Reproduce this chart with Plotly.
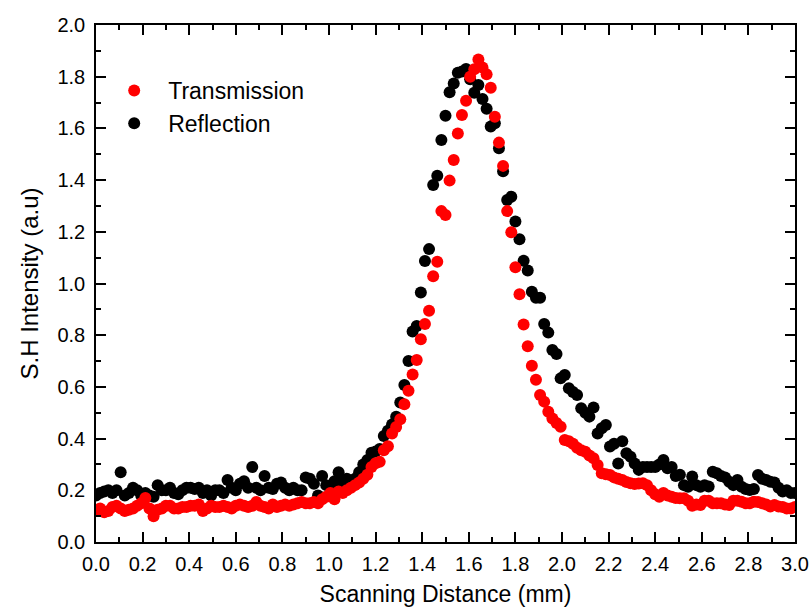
import plotly.graph_objects as go

# Scan positions (mm): 171 samples across 0 – 3 mm
n_points = 171
step_mm = 3.0 / 170
scan_mm = [round(i * step_mm, 4) for i in range(n_points)]

# Second-harmonic intensity, transmission geometry (a.u.)
transmission = [
    0.12, 0.13, 0.115, 0.12, 0.135, 0.14, 0.13, 0.12, 0.125, 0.13,
    0.14, 0.15, 0.17, 0.13, 0.10, 0.125, 0.13, 0.14, 0.14, 0.13,
    0.13, 0.135, 0.135, 0.14, 0.14, 0.145, 0.12, 0.13, 0.14, 0.135,
    0.135, 0.14, 0.135, 0.13, 0.14, 0.145, 0.14, 0.135, 0.14, 0.155,
    0.14, 0.135, 0.13, 0.145, 0.135, 0.14, 0.145, 0.14, 0.145, 0.15,
    0.155, 0.15, 0.15, 0.155, 0.15, 0.165, 0.175, 0.19, 0.165, 0.195,
    0.19, 0.20, 0.21, 0.22, 0.23, 0.245, 0.26, 0.29, 0.305, 0.31,
    0.355, 0.37, 0.42, 0.445, 0.475, 0.533, 0.585, 0.648, 0.704, 0.784,
    0.843, 0.895, 1.028, 1.084, 1.28, 1.265, 1.398, 1.478, 1.58, 1.652,
    1.707, 1.80, 1.829, 1.867, 1.836, 1.809, 1.757, 1.645, 1.545, 1.455,
    1.28, 1.198, 1.063, 0.958, 0.841, 0.757, 0.682, 0.628, 0.569, 0.543,
    0.504, 0.478, 0.46, 0.446, 0.395, 0.39, 0.38, 0.365, 0.355, 0.349,
    0.335, 0.324, 0.298, 0.266, 0.262, 0.259, 0.25, 0.245, 0.24, 0.232,
    0.227, 0.224, 0.226, 0.227, 0.22, 0.20, 0.185, 0.175, 0.19, 0.18,
    0.175, 0.17, 0.169, 0.169, 0.16, 0.14, 0.145, 0.143, 0.16, 0.16,
    0.15, 0.15, 0.15, 0.145, 0.143, 0.16, 0.16, 0.156, 0.15, 0.15,
    0.156, 0.155, 0.15, 0.145, 0.137, 0.143, 0.137, 0.135, 0.13, 0.13,
    0.135,
]

# Second-harmonic intensity, reflection geometry (a.u.)
reflection = [
    0.18, 0.19, 0.195, 0.20, 0.19, 0.20, 0.27, 0.18, 0.19, 0.21,
    0.20, 0.18, 0.19, 0.18, 0.175, 0.22, 0.20, 0.20, 0.21, 0.19,
    0.185, 0.20, 0.21, 0.21, 0.205, 0.21, 0.19, 0.20, 0.18, 0.20,
    0.20, 0.19, 0.24, 0.21, 0.20, 0.225, 0.235, 0.21, 0.29, 0.21,
    0.20, 0.255, 0.21, 0.205, 0.225, 0.23, 0.21, 0.20, 0.21, 0.20,
    0.20, 0.25, 0.245, 0.225, 0.18, 0.255, 0.22, 0.215, 0.235, 0.27,
    0.23, 0.245, 0.235, 0.245, 0.27, 0.30, 0.317, 0.345, 0.35, 0.36,
    0.41, 0.43, 0.455, 0.485, 0.54, 0.607, 0.70, 0.814, 0.836, 0.965,
    1.087, 1.133, 1.381, 1.417, 1.555, 1.649, 1.74, 1.774, 1.815, 1.82,
    1.83, 1.79, 1.738, 1.768, 1.714, 1.676, 1.607, 1.62, 1.523, 1.434,
    1.323, 1.336, 1.24, 1.171, 1.088, 1.05, 0.968, 0.945, 0.945, 0.843,
    0.81, 0.743, 0.727, 0.633, 0.646, 0.595, 0.58, 0.569, 0.517, 0.50,
    0.485, 0.52, 0.42, 0.44, 0.453, 0.369, 0.38, 0.304, 0.39, 0.343,
    0.33, 0.304, 0.279, 0.29, 0.29, 0.29, 0.29, 0.30, 0.317, 0.285,
    0.29, 0.255, 0.26, 0.22, 0.214, 0.253, 0.22, 0.214, 0.22, 0.215,
    0.272, 0.266, 0.255, 0.25, 0.233, 0.22, 0.24, 0.214, 0.205, 0.201,
    0.205, 0.259, 0.245, 0.24, 0.233, 0.23, 0.21, 0.195, 0.20, 0.19,
    0.19,
]

x_ticks = [round(0.2 * k, 1) for k in range(16)]
y_ticks = [round(0.2 * k, 1) for k in range(11)]

FONT = "Arial, 'Liberation Sans', sans-serif"

fig = go.Figure()
fig.add_trace(go.Scatter(
    x=scan_mm, y=reflection, mode="markers", name="Reflection",
    marker=dict(color="#000000", size=12, line=dict(width=0)),
))
fig.add_trace(go.Scatter(
    x=scan_mm, y=transmission, mode="markers", name="Transmission",
    marker=dict(color="#ff0000", size=12, line=dict(width=0)),
))

axis_common = dict(
    showline=True, linecolor="black", linewidth=1.5, mirror="ticks",
    ticks="inside", ticklen=10, tickwidth=1.5, tickcolor="black",
    showgrid=False, zeroline=False, automargin=False,
    tickfont=dict(family=FONT, size=20, color="black"),
)

fig.update_xaxes(
    range=[0, 3.0], tickvals=x_ticks, ticktext=[f"{v:.1f}" for v in x_ticks],
    minor=dict(dtick=0.1, ticks="inside", ticklen=5, tickwidth=1.5, tickcolor="black"),
    ticklabelstandoff=3,
    title=dict(text="Scanning Distance (mm)", font=dict(family=FONT, size=23, color="black"), standoff=13),
    **axis_common,
)
fig.update_yaxes(
    range=[0, 2.0], tickvals=y_ticks, ticktext=[f"{v:.1f}" for v in y_ticks],
    minor=dict(dtick=0.1, ticks="inside", ticklen=5, tickwidth=1.5, tickcolor="black"),
    ticklabelstandoff=5,
    title=dict(text="S.H Intensity (a.u)", font=dict(family=FONT, size=24, color="black"), standoff=12),
    **axis_common,
)

fig.update_layout(
    width=811, height=607,
    margin=dict(l=96, r=16, t=25, b=65),
    paper_bgcolor="white", plot_bgcolor="white",
    showlegend=True,
    legend=dict(
        x=0.006, y=0.915, xanchor="left", yanchor="top",
        traceorder="reversed", bgcolor="rgba(0,0,0,0)", itemwidth=58,
        font=dict(family=FONT, size=23, color="black"),
    ),
)

fig.write_html("out.html")
